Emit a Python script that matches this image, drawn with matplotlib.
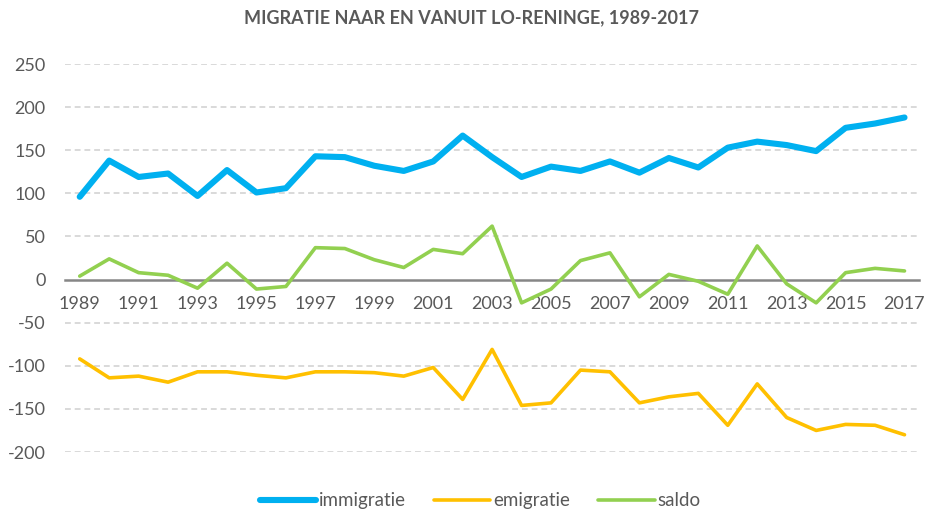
import matplotlib.pyplot as plt
import numpy as np

years = list(range(1989, 2018))
immigratie = [96, 138, 119, 123, 97, 127, 101, 106, 143, 142, 132, 126, 137, 167,
              142, 119, 131, 126, 137, 124, 141, 130, 153, 160, 156, 149, 176, 181, 188]
emigratie = [-92, -114, -112, -119, -107, -107, -111, -114, -107, -107, -108, -112, -102, -139,
             -81, -146, -143, -105, -107, -143, -136, -132, -169, -121, -160, -175, -168, -169, -180]
saldo = [4, 24, 8, 5, -10, 19, -11, -8, 37, 36, 23, 14, 35, 30,
         62, -27, -11, 22, 31, -20, 6, -2, -17, 39, -5, -27, 8, 13, 10]
yticks = [-200, -150, -100, -50, 0, 50, 100, 150, 200, 250]

plt.rcParams['font.family'] = ['Lato', 'DejaVu Sans']
plt.rcParams['axes.unicode_minus'] = False
grey = '#595959'

fig = plt.figure(figsize=(9.38, 5.13), dpi=100)
ax = fig.add_axes([0.0693, 0.1189, 0.9107, 0.7563])

style = dict(solid_capstyle='round', solid_joinstyle='round', zorder=4)
ax.plot(years, immigratie, color='#00B0F0', lw=4.4, label='immigratie', **style)
ax.plot(years, emigratie, color='#FFC000', lw=2.6, label='emigratie', **style)
ax.plot(years, saldo, color='#92D050', lw=2.6, label='saldo', **style)

ax.set_xlim(1988.5, 2017.5)
ax.set_ylim(-200, 250)
ax.set_yticks(yticks)
ax.set_xticks(years[::2])

# dashed gridlines
for y in yticks:
    if y != 0:
        ax.axhline(y, color='#d9d9d9', lw=1.4, ls=(0, (3, 2)), zorder=1)

for s in ['top', 'right', 'left']:
    ax.spines[s].set_visible(False)
ax.spines['bottom'].set_position(('data', 0))
ax.spines['bottom'].set_color('#868686')
ax.spines['bottom'].set_linewidth(1.8)
ax.spines['bottom'].set_zorder(3)

ax.tick_params(axis='both', length=0, labelsize=13, labelcolor=grey)
ax.tick_params(axis='y', pad=14)
ax.tick_params(axis='x', pad=12)

fig.text(0.503, 0.965, 'MIGRATIE NAAR EN VANUIT LO-RENINGE, 1989-2017',
         ha='center', va='center', fontsize=13, fontweight='bold', color=grey)

leg = fig.legend(loc='center', bbox_to_anchor=(0.512, 0.024), ncol=3, frameon=False,
                 fontsize=13.5, handlelength=3.0, handletextpad=0.15, columnspacing=1.5)
for t in leg.get_texts():
    t.set_color(grey)
for h in leg.get_lines():
    h.set_solid_capstyle('round')

fig.savefig('out.png', dpi=100)
